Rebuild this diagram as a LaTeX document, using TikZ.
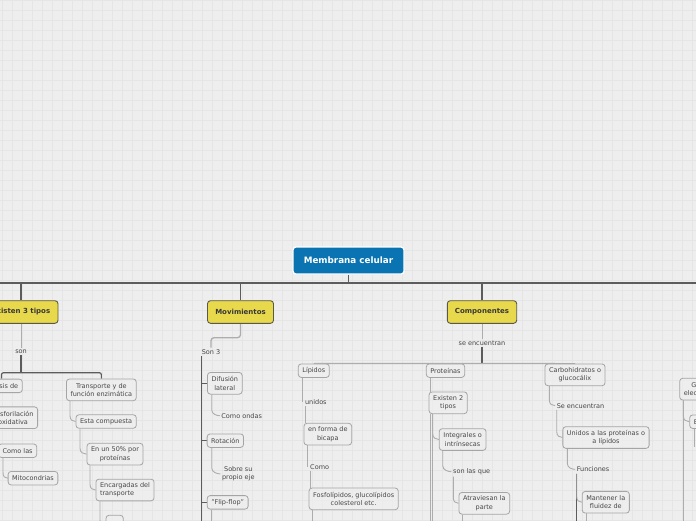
\documentclass[tikz,border=0pt]{standalone}
\usepackage{fontspec}
\setmainfont{DejaVu Sans}
\usetikzlibrary{calc}
\definecolor{bgc}{HTML}{EEEEEE}
\definecolor{gridc}{HTML}{E5E5E5}
\definecolor{txt}{HTML}{474747}
\definecolor{boxb}{HTML}{A5A5A5}
\definecolor{yel}{HTML}{E8D84C}
\definecolor{yelb}{HTML}{5A5848}
\definecolor{blu}{HTML}{0A74B3}
\definecolor{spinec}{HTML}{5C5C5C}
\definecolor{connc}{HTML}{ADADAD}
\pgfdeclarelayer{gridlayer}
\pgfdeclarelayer{lines}
\pgfsetlayers{gridlayer,lines,main}
\newcommand\tconn[3]{\draw[conn] (#1.south -| #3,0) -- ($(#2.west -| #3,0)+(0,-6)$) .. controls ($(#2.west -| #3,0)+(0,-1.5)$) and ($(#2.west)+(-3,0)$) .. (#2.west);}
\begin{document}
\begin{tikzpicture}[x=1pt,y=-1pt,
  font=\fontsize{6.5}{8.3}\selectfont, text=txt,
  gbox/.style={draw=boxb, fill=bgc, fill opacity=0.75, text opacity=1, rounded corners=3pt, line width=0.8pt, inner xsep=4.1pt, inner ysep=2pt, minimum height=13.5pt, align=center},
  gbox2/.style={gbox, minimum height=21.7pt},
  ybox/.style={draw=yelb, fill=yel, rounded corners=3pt, line width=0.9pt, text=black!78, font=\fontsize{7}{8}\selectfont\bfseries, minimum height=22.6pt, inner sep=0pt},
  mbox/.style={draw=white, fill=blu, rounded corners=3pt, line width=1.2pt, text=white, font=\fontsize{8.8}{10}\selectfont\bfseries, inner sep=0pt},
  lbl/.style={inner sep=1.5pt, align=center},
  conn/.style={draw=connc, line width=0.9pt},
  spine/.style={draw=spinec, line width=1.2pt},
  mainln/.style={draw=spinec, line width=1.9pt}
]
\useasboundingbox (0,0) rectangle (696,520);
\begin{pgfonlayer}{gridlayer}
\fill[bgc] (0,0) rectangle (696,520);
\foreach \i in {0,...,69} \draw[gridc, line width=0.6pt] ({2.3+10*\i},0) -- ({2.3+10*\i},520);
\foreach \j in {0,...,52} \draw[gridc, line width=0.6pt] (0,{0.5+10*\j}) -- (696,{0.5+10*\j});
\end{pgfonlayer}

% main and level 1
\node[mbox, minimum width=111pt, minimum height=27pt] (main) at (348.5,260.5) {Membrana celular};
\node[ybox, minimum width=74pt] (ex3) at (21,312) {Existen 3 tipos};
\node[ybox, minimum width=66pt] (mov) at (240.5,312) {Movimientos};
\node[ybox, minimum width=69.4pt] (comp) at (482,312) {Componentes};
\coordinate (mL) at (-5,282.7);
\coordinate (mR) at (701,282.7);

% Existen 3 tipos branch
\node[lbl] (son) at (21,351.7) {son};
\node[gbox, text width=40pt, align=right, anchor=east] (sis) at (22.7,385.85) {sis de};
\node[gbox2] (fosf) at (13.1,417.7) {Fosforilación\\oxidativa};
\node[gbox] (comolas) at (17.6,450.7) {Como las};
\node[gbox] (mito) at (33,478.2) {Mitocondrias};
\node[gbox2] (transp) at (101.35,389.85) {Transporte y de\\función enzimática};
\node[gbox] (esta) at (106.15,421.5) {Esta compuesta};
\node[gbox2] (en50) at (115,454.15) {En un 50\% por\\proteínas};
\node[gbox2, align=left] (encarg) at (125,490) {Encargadas del\\transporte};
\node[gbox, minimum width=17.3pt, minimum height=21.4pt] (small) at (114.65,526) {};

% Movimientos branch
\node[lbl] (son3) at (211,351.7) {Son 3};
\node[gbox2] (difus) at (224.8,383.3) {Difusión\\lateral};
\node[lbl] (ondas) at (241.7,415.7) {Como ondas};
\node[gbox] (rot) at (225.35,440.65) {Rotación};
\node[lbl, font=\fontsize{6.5}{7.7}\selectfont] (sobre) at (238.3,473.9) {Sobre su\\propio eje};
\node[gbox] (flip) at (227.65,502.35) {"Flip-flop"};

% Componentes branch
\node[lbl] (seenc) at (482,343.3) {se encuentran};
\node[gbox] (lip) at (313.8,370.65) {Lípidos};
\node[lbl] (unidos) at (315.85,401.7) {unidos};
\node[gbox2] (bicapa) at (327.8,434.15) {en forma de\\bicapa};
\node[lbl] (como) at (319.65,466.7) {Como};
\node[gbox2] (fosfo) at (353.65,498.85) {Fosfolípidos, glucolípidos\\colesterol etc.};
\node[gbox] (prot) at (445.5,370.65) {Proteínas};
\node[gbox2] (ex2) at (448.15,402.8) {Existen 2\\tipos};
\node[gbox2] (integ) at (462.65,439.5) {Integrales o\\intrínsecas};
\node[lbl] (sonque) at (471.65,471.7) {son las que};
\node[gbox2] (atrav) at (484.3,503.3) {Atraviesan la\\parte};
\node[gbox2] (carb) at (575,374.85) {Carbohidratos o\\glucocálix};
\node[lbl] (seenc2) at (580.5,405.7) {Se encuentran};
\node[gbox2] (unid2) at (606,437.5) {Unidos a las proteínas o\\a lípidos};
\node[lbl] (func) at (593,469.3) {Funciones};
\node[gbox2] (mant) at (605.8,502.2) {Mantener la\\fluidez de};

% right edge
\node[gbox2, anchor=west, text width=30pt, align=left] (gnode) at (679.3,389.15) {\hspace*{7.5pt}G\\elec};
\node[gbox, anchor=west, text width=20pt, align=left] (enode) at (689.3,421.7) {E};

\begin{pgfonlayer}{lines}
\draw[mainln] (mL) -- (mR);
\draw[spine] (main.south) -- (main.south |- mL);
\draw[spine, line width=1.4pt] (ex3.north) -- (ex3.north |- mL);
\draw[spine, line width=1.4pt] (mov.north) -- (mov.north |- mL);
\draw[spine, line width=1.4pt] (comp.north) -- (comp.north |- mL);

% Existen 3 tipos
\coordinate (sonbar) at (21,372.7);
\draw[conn] (ex3.south) -- (son.north);
\draw[spine] (son.south) -- (sonbar);
\draw[spine, rounded corners=2pt] (sis.north -| 1.5,0) -- (1.5,372.7) -- (transp.north |- sonbar) -- (transp.north);
\tconn{comolas}{mito}{3}
\tconn{transp}{esta}{70}
\tconn{esta}{en50}{80}
\tconn{en50}{encarg}{90}
\tconn{encarg}{small}{100}

% Movimientos
\draw[conn, line width=1.3pt, rounded corners=3pt] (mov.south) -- (mov.south |- 0,337.7) -- (son3.north |- 0,337.7) -- (son3.north);
\coordinate (s3end) at (201.7,522);
\draw[spine] (son3.south -| 201.7,0) -- (s3end);
\draw[spine, line width=1pt] (difus.west -| 201.7,0) -- (difus.west);
\draw[spine, line width=1pt] (rot.west -| 201.7,0) -- (rot.west);
\draw[spine, line width=1pt] (flip.west -| 201.7,0) -- (flip.west);
\tconn{difus}{ondas}{211.7}
\tconn{rot}{sobre}{211.7}
\coordinate (flipend) at (211.5,522);
\draw[conn] (flip.south -| 211.5,0) -- (flipend);

% Componentes
\draw[conn] (comp.south) -- (seenc.north);
\draw[spine, line width=1.5pt] (seenc.south) -- (seenc.south |- 0,364.3);
\draw[conn, line width=1.2pt] (lip.north) -- (carb.north);
\draw[conn] (lip.south -| 302.7,0) -- (unidos.west -| 302.7,0);
\draw[conn] (unidos.south -| 305,0) -- (bicapa.north -| 305,0);
\draw[conn] (bicapa.south -| 307.7,0) -- (como.west -| 307.7,0);
\draw[conn] (como.south -| 310,0) -- (fosfo.north -| 310,0);
\coordinate (fosfoend) at (312.3,522);
\draw[conn] (fosfo.south -| 312.3,0) -- (fosfoend);

\draw[conn] (prot.south -| 430.7,0) -- (ex2.north -| 430.7,0);
\coordinate (ex2endA) at (430.7,522);
\coordinate (ex2endB) at (432.7,522);
\draw[conn] (ex2.south -| 430.7,0) -- (ex2endA);
\draw[conn] (ex2.south -| 432.7,0) -- (ex2endB);
\tconn{ex2}{integ}{432.7}
\tconn{integ}{sonque}{442.7}
\tconn{sonque}{atrav}{453.3}
\coordinate (atravend) at (462.7,522);
\draw[conn] (atrav.south -| 462.7,0) -- (atravend);

\tconn{carb}{seenc2}{549.3}
\tconn{seenc2}{unid2}{556.7}
\tconn{unid2}{func}{567.3}
\coordinate (funcend) at (576.7,522);
\draw[spine] (func.south -| 576.7,0) -- (funcend);
\tconn{func}{mant}{576.7}
\coordinate (mantend) at (586.7,522);
\draw[conn] (mant.south -| 586.7,0) -- (mantend);

\tconn{gnode}{enode}{683.3}
\coordinate (gend) at (683.3,522);
\draw[conn] (gnode.south -| 683.3,0) -- (gend);
\coordinate (eend) at (694.3,447);
\draw[conn] (enode.south -| 694.3,0) -- (eend);
\end{pgfonlayer}
\end{tikzpicture}
\end{document}
